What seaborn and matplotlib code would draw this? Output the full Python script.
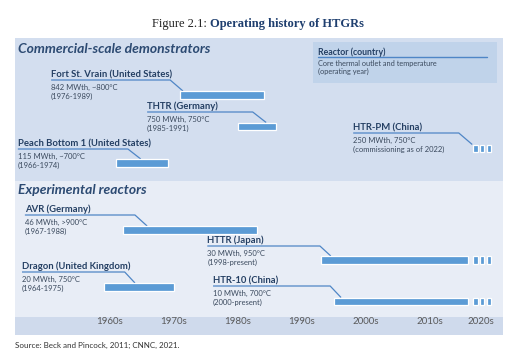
import matplotlib
matplotlib.use("Agg")
import matplotlib.pyplot as plt
import seaborn as sns

# ---------------- data ----------------
reactors = ["Fort St. Vrain (United States)", "THTR (Germany)", "HTR-PM (China)",
            "Peach Bottom 1 (United States)", "AVR (Germany)", "HTTR (Japan)",
            "Dragon (United Kingdom)", "HTR-10 (China)"]
specs = ["842 MWth, ~800°C", "750 MWth, 750°C", "250 MWth, 750°C",
         "115 MWth, ~700°C", "46 MWth, >900°C", "30 MWth, 950°C",
         "20 MWth, 750°C", "10 MWth, 700°C"]
periods = ["(1976-1989)", "(1985-1991)", "(commissioning as of 2022)",
           "(1966-1974)", "(1967-1988)", "(1998-present)",
           "(1964-1975)", "(2000-present)"]
start_year = [1976, 1985, 2021, 1966, 1967, 1998, 1964, 2000]
end_year = [1989, 1991, 2021, 1974, 1988, 2021, 1975, 2021]
ongoing = [False, False, True, False, False, True, False, True]
decade_labels = ["1960s", "1970s", "1980s", "1990s", "2000s", "2010s", "2020s"]
decade_pos = [1965, 1975, 1985, 1995, 2005, 2015, 2023]
sections = ["Commercial-scale demonstrators", "Experimental reactors"]

# ---------------- layout (pixel rows, label anchors in years) ----------------
underline_y = [80, 112, 133, 149, 215, 246, 272, 286]
bar_top = [91, 122.5, 144.5, 159, 226, 256, 283, 297.5]
bar_h = 7.5
label_x = [1955.8, 1970.8, 2003.0, 1950.6, 1951.7, 1980.2, 1951.25, 1981.1]
elbow_x = [1974.4, 1987.3, 2019.5, 1967.8, 1968.9, 1997.8, 1967.3, 1999.4]
leader_end_x = [1976.4, 1989.4, 2021.6, 1969.8, 1970.8, 1999.5, 1968.9, 2001.1]
dash_offsets = [0.75, 1.8, 2.85]
dash_w = 0.7

BAR = "#5b9bd5"
LINE = "#4f86c6"
NAME = "#243f63"
BODY = "#3b4a5e"
HEAD = "#2c4a72"
TOP_BG = "#d3deef"
BOT_BG = "#e8edf6"
AX_BG = "#cfdaec"
LEG_BG = "#c0d3ea"

sns.set_theme(style="white")
plt.rcParams["font.family"] = ["Lato", "DejaVu Sans"]

fig = plt.figure(figsize=(5.16, 3.5), dpi=100)
W, H = 516, 350
px0, px1, py0, py1 = 15, 503, 38, 335
ax = fig.add_axes([px0 / W, 1 - py1 / H, (px1 - px0) / W, (py1 - py0) / H])
yr = lambda p: 1960 + (p - 78) / 6.4
ax.set_xlim(yr(px0), yr(px1))
ax.set_ylim(py1, py0)

ax.axhspan(py0, 181, color=TOP_BG, lw=0, zorder=0)
ax.axhspan(181, 317, color=BOT_BG, lw=0, zorder=0)
ax.axhspan(317, py1, color=AX_BG, lw=0, zorder=0)

# legend box
ax.add_patch(plt.Rectangle((yr(313), 42), yr(497) - yr(313), 41, color=LEG_BG, lw=0, zorder=1))
ax.plot([yr(318), yr(487)], [57, 57], color=LINE, lw=1, zorder=2)
ax.text(yr(318), 54.5, "Reactor (country)", fontsize=6.3, fontweight="bold", color=NAME, va="baseline")
ax.text(yr(318), 63, "Core thermal outlet and temperature", fontsize=5.3, color=BODY, va="center")
ax.text(yr(318), 71, "(operating year)", fontsize=5.3, color=BODY, va="center")

# section headings
ax.text(yr(18), 49, sections[0], fontsize=10, fontweight="bold", style="italic", color=HEAD, va="center")
ax.text(yr(18), 190, sections[1], fontsize=10, fontweight="bold", style="italic", color=HEAD, va="center")

for i in range(len(reactors)):
    uy = underline_y[i]
    ax.text(label_x[i], uy - 3, reactors[i], fontsize=6.8, fontweight="bold", color=NAME, va="baseline")
    ax.text(label_x[i], uy + 7.5, specs[i], fontsize=5.5, color=BODY, va="center")
    ax.text(label_x[i], uy + 16.5, periods[i], fontsize=5.5, color=BODY, va="center")
    ax.plot([label_x[i], elbow_x[i], leader_end_x[i]], [uy, uy, bar_top[i]],
            color=LINE, lw=0.9, solid_capstyle="butt", zorder=2)
    if end_year[i] > start_year[i]:
        ax.barh(bar_top[i] + bar_h / 2, end_year[i] - start_year[i], left=start_year[i],
                height=bar_h, color=BAR, edgecolor="white", linewidth=0.9, zorder=3)
    if ongoing[i]:
        for off in dash_offsets:
            ax.barh(bar_top[i] + bar_h / 2, dash_w, left=end_year[i] + off,
                    height=bar_h, color=BAR, edgecolor="white", linewidth=0.9, zorder=3)

ax.set_xticks(decade_pos)
ax.set_xticklabels(decade_labels, fontsize=7, color="#5a5a5a")
ax.tick_params(axis="x", length=0, pad=-13)
ax.set_yticks([])
sns.despine(ax=ax, left=True, bottom=True)

split = 210 / W
fig.text(split, 1 - 24 / H, "Figure 2.1: ", ha="right", va="center", fontsize=9,
         family="Liberation Serif", color="#222222")
fig.text(split, 1 - 24 / H, "Operating history of HTGRs", ha="left", va="center", fontsize=9,
         family="Liberation Serif", fontweight="bold", color="#1f3f6f")
fig.text(15 / W, 1 - 345 / H, "Source: Beck and Pincock, 2011; CNNC, 2021.", fontsize=5.8,
         color="#333333", va="center")

fig.savefig("out.png", dpi=100, facecolor="white")
